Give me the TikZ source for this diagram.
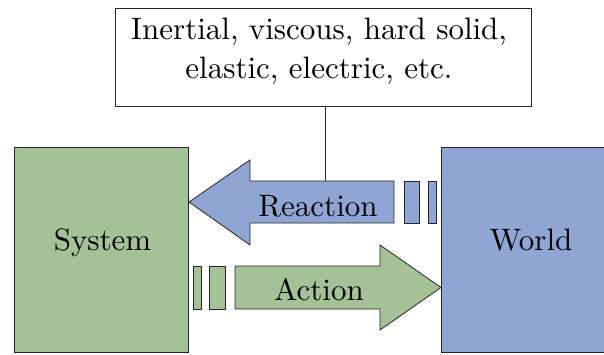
\documentclass[tikz,border=0pt]{standalone}
\usepackage{fontspec}
\setmainfont{lmroman10-regular.otf}
\definecolor{sysgreen}{RGB}{165,193,150}
\definecolor{worldblue}{RGB}{143,165,212}
\begin{document}
\begin{tikzpicture}[x=1pt,y=-1pt,
  outline/.style={draw=black!85,line width=0.8pt},
  bigbox/.style={outline,rectangle,inner sep=0pt},
  lbl/.style={anchor=base,inner sep=0pt,font=\fontsize{31}{36}\selectfont}]
\useasboundingbox (0,0) rectangle (604,354);
% top box
\node[bigbox,fill=white,minimum width=416pt,minimum height=98pt] (top) at (323,57) {};
\node[lbl] (t1) at (319,39) {Inertial, viscous, hard solid,};
\node[lbl] (t2) at (319,78) {elastic, electric, etc.};
% system and world
\node[bigbox,fill=sysgreen,minimum width=174pt,minimum height=205pt] (sys) at (101,249.5) {};
\node[lbl] (systxt) at (102.5,250.7) {System};
\node[bigbox,fill=worldblue,minimum width=184pt,minimum height=205pt] (world) at (533,249.5) {};
\node[lbl] (worldtxt) at (531,250.7) {World};
% reaction arrow
\coordinate (rtop) at (325,181);
\draw[outline,fill=worldblue] (394,181) -- (250,181) -- (250,160) -- (189,202)
  -- (250,245) -- (250,223) -- (394,223) -- cycle;
\draw[outline,fill=worldblue] (404,181) rectangle (419,223);
\draw[outline,fill=worldblue] (428,181) rectangle (436,223);
\node[lbl] (reacttxt) at (318,216) {Reaction};
% action arrow
\draw[outline,fill=sysgreen] (235,266) -- (380,266) -- (380,245) -- (441,287.5)
  -- (380,330) -- (380,309) -- (235,309) -- cycle;
\draw[outline,fill=sysgreen] (193,266) rectangle (201,309);
\draw[outline,fill=sysgreen] (209,266) rectangle (225,309);
\node[lbl] (acttxt) at (319,300) {Action};
% connector
\draw[outline] (top.south -| rtop) -- (rtop);
\end{tikzpicture}
\end{document}
